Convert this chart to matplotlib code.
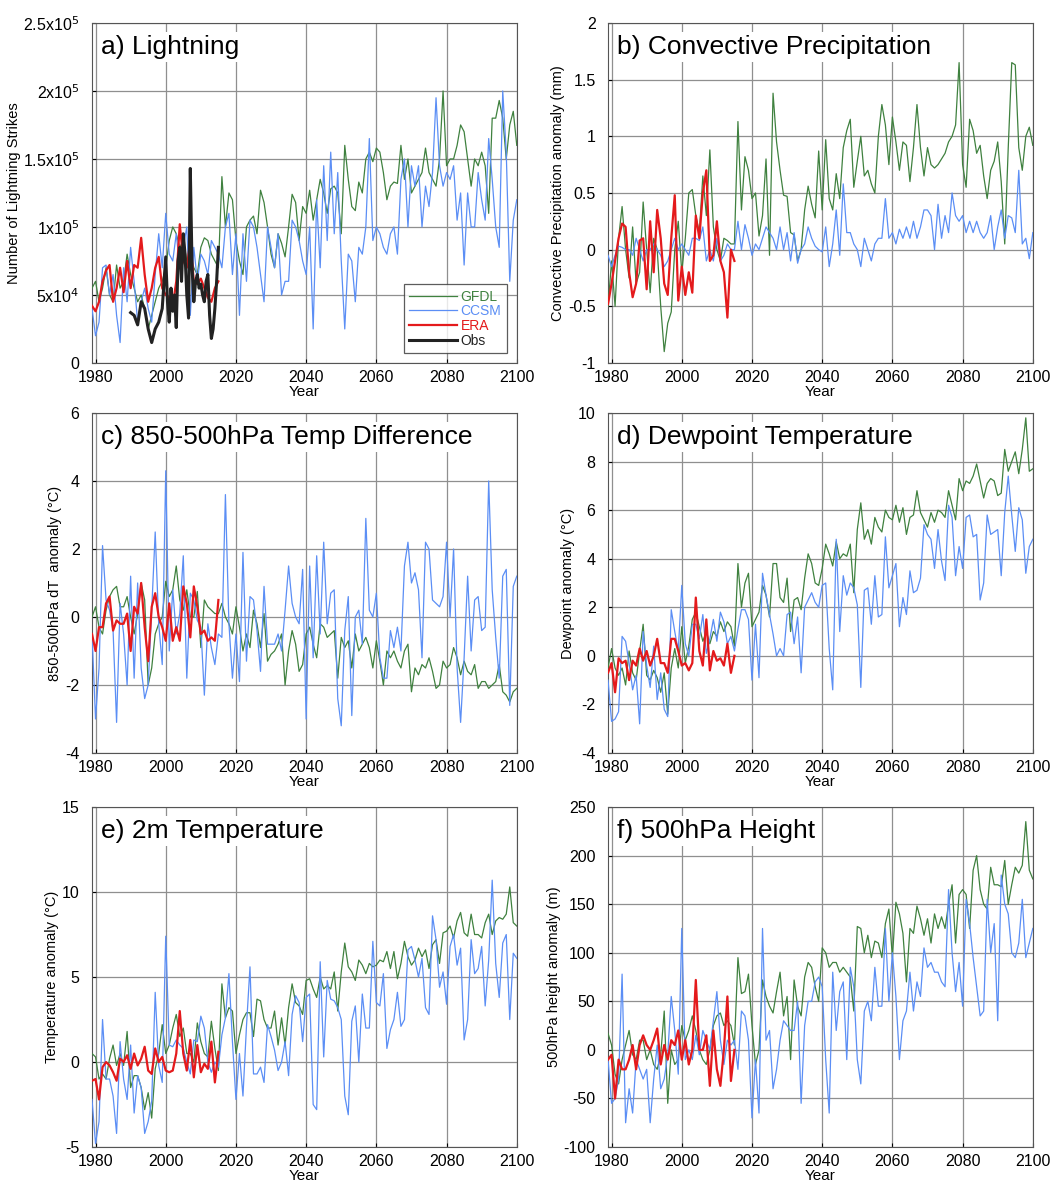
import matplotlib
matplotlib.use("Agg")
import matplotlib.pyplot as plt
from matplotlib.ticker import FuncFormatter
import numpy as np

plt.rcParams['font.family'] = ['Liberation Sans', 'DejaVu Sans']
plt.rcParams['axes.unicode_minus'] = False

# yearly series start in 1979; ERA covers 1979-2015
start_year = 1979

# a) lightning, thousands of strikes
lightning_gfdl = [55, 60, 45, 55, 70, 50, 45, 72, 55, 60,
                  80, 65, 55, 45, 50, 40, 25, 35, 45, 55,
                  60, 70, 90, 100, 95, 85, 90, 75, 80, 70,
                  65, 85, 92, 90, 80, 75, 70, 137, 100, 125,
                  120, 90, 75, 65, 100, 105, 108, 95, 127, 118,
                  100, 80, 70, 95, 88, 78, 100, 124, 118, 90,
                  115, 110, 127, 105, 120, 135, 125, 110, 128, 130,
                  125, 95, 160, 135, 115, 112, 133, 125, 150, 155,
                  148, 158, 155, 140, 120, 130, 133, 132, 160, 135,
                  150, 125, 130, 135, 140, 158, 140, 135, 130, 150,
                  200, 145, 150, 150, 160, 175, 170, 150, 130, 150,
                  145, 155, 145, 110, 180, 180, 193, 180, 150, 175,
                  185, 160]
lightning_ccsm = [40, 20, 30, 70, 72, 50, 65, 35, 15, 70,
                  45, 85, 60, 30, 45, 55, 40, 30, 65, 95,
                  70, 110, 80, 75, 95, 70, 85, 100, 35, 85,
                  60, 80, 75, 65, 90, 85, 80, 70, 100, 110,
                  65, 95, 35, 95, 60, 105, 100, 85, 65, 45,
                  100, 85, 70, 95, 50, 60, 60, 105, 100, 90,
                  75, 65, 100, 25, 120, 70, 145, 90, 155, 95,
                  140, 75, 25, 80, 75, 45, 85, 80, 100, 165,
                  90, 100, 95, 85, 80, 95, 100, 80, 135, 150,
                  100, 145, 130, 145, 100, 130, 115, 140, 195, 145,
                  130, 140, 135, 145, 105, 125, 72, 125, 100, 100,
                  140, 120, 105, 165, 135, 100, 85, 200, 155, 60,
                  105, 120]
lightning_era = [42, 38, 45, 60, 68, 72, 45, 55, 70, 52,
                 75, 55, 72, 70, 92, 65, 45, 55, 70, 78,
                 55, 50, 48, 42, 60, 102, 75, 70, 90, 60,
                 58, 62, 55, 48, 45, 55, 60]
obs_years = [1990, 1991, 1992, 1993, 1994, 1995, 1996, 1997, 1998, 1999,
             2000, 2000.5, 2001, 2001.5, 2002, 2002.5, 2003, 2003.5, 2004, 2004.5,
             2005, 2005.5, 2006, 2006.5, 2007, 2007.5, 2008, 2008.5, 2009, 2009.5,
             2010, 2010.5, 2011, 2011.5, 2012, 2012.5, 2013, 2013.5, 2014, 2014.5, 2015]
lightning_obs = [37, 35, 28, 45, 40, 25, 15, 25, 30, 40,
                 78, 45, 30, 55, 38, 50, 26, 75, 85, 60,
                 95, 80, 50, 33, 143, 70, 45, 60, 65, 55,
                 58, 50, 45, 60, 65, 35, 18, 25, 40, 60, 85]

# b) convective precipitation anomaly (mm)
precip_gfdl = [-0.5, -0.1, -0.5, 0.1, 0.38, 0.0, -0.25, 0.2, -0.3, -0.2,
               0.42, 0.0, -0.38, 0.1, 0.0, -0.5, -0.9, -0.65, -0.55, 0.0,
               0.25, -0.2, 0.1, 0.5, 0.53, 0.3, 0.15, 0.65, 0.3, 0.88,
               0.2, 0.0, -0.1, 0.1, 0.08, 0.05, 0.05, 1.13, 0.35, 0.82,
               0.7, 0.45, 0.5, 0.12, 0.3, 0.8, -0.05, 1.38, 0.95, 0.7,
               0.48, 0.47, 0.15, 0.13, -0.1, 0.0, 0.35, 0.56, 0.4, 0.28,
               0.87, 0.35, 0.97, 0.45, 0.35, 0.67, 0.45, 0.9, 1.05, 1.15,
               0.55, 0.78, 1.0, 0.65, 0.7, 0.58, 0.5, 1.0, 1.28, 1.1,
               0.75, 1.17, 0.95, 0.7, 0.95, 0.92, 0.6, 0.9, 1.28, 0.9,
               0.65, 0.9, 0.75, 0.72, 0.75, 0.8, 0.85, 0.95, 1.0, 1.1,
               1.65, 0.75, 0.55, 1.15, 1.05, 0.85, 0.92, 0.65, 0.45, 0.7,
               0.78, 0.95, 0.6, 0.05, 0.9, 1.65, 1.63, 0.9, 0.7, 1.0,
               1.08, 0.92]
precip_ccsm = [-0.05, -0.15, -0.05, 0.03, 0.02, 0.0, 0.0, -0.05, 0.1, 0.0,
               -0.1, 0.0, 0.0, 0.05, 0.0, -0.05, -0.15, -0.1, 0.0, 0.1,
               0.0, 0.05, 0.0, -0.05, 0.1, 0.1, 0.08, 0.2, -0.1, 0.0,
               -0.1, 0.1, -0.1, -0.05, 0.05, 0.0, 0.0, 0.25, 0.0, 0.22,
               0.1, -0.05, 0.05, 0.0, 0.1, 0.2, 0.15, 0.1, 0.0, 0.2,
               0.0, 0.15, -0.1, 0.15, -0.12, 0.0, 0.05, 0.2, 0.1, 0.03,
               0.0, -0.02, 0.2, -0.15, 0.05, 0.35, -0.05, 0.58, 0.15, 0.15,
               0.05, 0.0, -0.15, 0.1, 0.0, -0.1, 0.05, 0.1, 0.1, 0.45,
               0.1, 0.15, 0.05, 0.18, 0.1, 0.2, 0.1, 0.25, 0.1, 0.2,
               0.35, 0.35, 0.3, 0.0, 0.4, 0.1, 0.3, 0.15, 0.5, 0.3,
               0.25, 0.3, 0.15, 0.25, 0.15, 0.25, 0.15, 0.1, 0.15, 0.3,
               0.0, 0.2, 0.35, 0.1, 0.3, 0.28, 0.15, 0.7, 0.05, 0.1,
               -0.08, 0.15]
precip_era = [-0.48, -0.3, -0.1, 0.1, 0.23, 0.2, -0.2, -0.42, -0.3, 0.08,
              0.1, -0.35, 0.25, -0.2, 0.35, 0.1, -0.3, -0.4, 0.1, 0.48,
              -0.45, -0.15, -0.4, -0.2, -0.38, 0.3, 0.1, 0.5, 0.7, -0.1,
              -0.05, 0.25, -0.1, -0.2, -0.6, 0.0, -0.1]

# c) 850-500hPa dT anomaly (degC)
dt_gfdl = [0.0, 0.3, -0.3, -0.5, 0.2, 0.6, 0.8, 0.9, 0.3, 0.3,
           0.6, 0.0, -0.5, 0.1, 1.0, 0.5, -2.0, -1.5, -0.5, -0.2,
           0.0, 1.05, 0.6, 0.8, 1.5, 0.5, 0.2, 0.8, 0.0, 0.0,
           0.75, -0.9, 0.5, 0.3, 0.2, 0.1, 0.1, 0.4, 0.0, -0.2,
           -0.5, 0.3, -0.3, -1.0, -0.5, -0.9, 0.2, -0.2, -0.9, 0.1,
           -1.3, -1.1, -1.0, -0.8, -0.5, -2.0, -1.0, -0.4, -0.8, -1.6,
           -1.4, -0.5, -0.3, -0.8, -1.2, -0.2, -0.3, -0.6, -0.5, -0.4,
           -1.8, -0.6, -0.9, -0.7, -1.5, -0.5, -1.0, -0.8, -0.6, -0.9,
           -1.5, -0.7, -1.3, -2.0, -1.0, -1.2, -1.0, -1.3, -1.5, -1.0,
           -0.8, -2.2, -1.5, -1.7, -1.4, -1.5, -1.2, -1.6, -2.1, -2.0,
           -1.3, -1.5, -1.4, -0.9, -1.2, -1.7, -1.3, -1.6, -1.7, -1.4,
           -2.1, -1.9, -1.9, -2.1, -2.0, -1.9, -1.4, -2.2, -2.3, -2.5,
           -2.2, -2.1]
dt_ccsm = [-0.5, -3.0, -1.5, 2.1, 0.5, 0.2, -0.4, -3.1, 0.4, -0.5,
           -2.0, 1.2, -1.8, 1.0, -1.5, -2.4, -2.0, 0.2, 2.5, -0.2,
           -1.4, 4.3, -1.0, 0.8, -0.5, 0.1, 1.8, -1.8, 0.7, 0.5,
           -0.1, -0.3, -2.3, -0.2, -0.9, -1.4, -0.5, -0.6, 3.6, -0.2,
           -1.8, -0.5, -1.9, 1.9, -1.3, 0.6, 0.5, -0.4, -1.6, 0.9,
           -0.8, -0.8, -0.8, -0.5, -1.0, 0.2, 1.5, 0.4, 0.0, -0.2,
           1.4, -3.0, 1.5, -1.2, 1.8, -0.5, 2.2, -0.2, 0.7, 0.8,
           -2.4, -3.2, -0.4, 0.6, -2.9, 0.0, 0.2, -0.8, 2.9, 0.2,
           0.0, 0.7, -1.2, -1.8, -1.8, -0.4, -0.9, -0.3, -1.0, 1.5,
           2.2, 1.0, 1.3, 0.8, -1.2, 2.2, 2.0, 0.5, 0.4, 0.3,
           0.6, 2.2, 0.0, 2.0, -1.5, -3.1, -1.2, 1.2, -1.0, 0.5,
           0.6, -0.4, -0.3, 4.0, 0.8, -0.6, -1.8, 1.2, 1.4, -2.6,
           0.9, 1.2]
dt_era = [-0.5, -1.0, -0.3, -0.3, 0.4, 0.6, -0.4, -0.1, -0.2, -0.2,
          0.1, -1.0, 0.3, 0.1, 1.0, -0.3, -1.3, 0.3, 0.7, 0.0,
          -0.3, -0.7, 0.4, -0.7, -0.3, -0.7, 0.9, 0.4, -0.6, 0.9,
          0.3, -0.5, -0.4, -0.7, -0.6, -0.7, 0.5]

# d) dewpoint anomaly (degC)
dew_gfdl = [-0.5, 0.3, -0.5, -0.8, -0.5, -1.2, 0.2, -0.7, -1.0, 0.2,
            1.3, -0.8, -1.0, -0.6, -0.9, -1.5, -0.7, -2.4, -0.5, 0.3,
            -0.5, 1.2, -0.3, 0.4, 1.5, 1.8, 1.2, 0.6, 1.0, 0.5,
            1.0, 0.8, 1.4, 1.0, 1.4, 1.2, 0.4, 3.8, 2.0, 3.0,
            3.4, 1.2, 1.5, 1.8, 2.9, 2.5, 1.6, 3.8, 3.8, 2.4,
            2.2, 3.2, 1.0, 2.3, 2.4, 1.9, 3.2, 4.2, 3.8, 3.0,
            2.9, 3.6, 4.6, 4.2, 3.7, 4.7, 4.0, 4.2, 4.1, 4.6,
            2.6, 5.2, 6.3, 4.8, 5.2, 4.6, 5.7, 5.3, 5.1, 6.0,
            5.7, 5.6, 6.2, 5.5, 6.1, 5.0, 5.7, 5.8, 6.8, 5.9,
            5.6, 5.3, 5.9, 5.5, 6.0, 5.9, 5.7, 6.8, 6.2, 5.6,
            7.3, 6.8, 7.2, 7.1, 7.4, 7.9, 7.2, 6.5, 7.1, 7.3,
            7.2, 6.6, 6.7, 8.5, 7.6, 8.0, 8.4, 7.5, 8.5, 9.8,
            7.6, 7.7]
dew_ccsm = [-1.0, -2.7, -2.6, -2.3, 0.8, 0.6, -0.3, -1.4, -0.8, -2.8,
            1.0, -0.4, -1.3, 0.4, -1.8, -0.7, -2.2, -2.5, 1.9, 1.0,
            0.2, 2.9, 0.5, 0.0, 1.3, 1.3, 0.7, 1.7, 0.1, 0.7,
            1.5, 0.6, 1.8, 1.4, 0.5, 0.8, 0.2, 1.1, 1.9, 1.9,
            1.5, -1.0, 1.3, -0.9, 3.4, 2.5, 1.7, 0.9, 0.0, 0.3,
            0.0, 1.7, 1.8, 0.5, 1.6, -0.7, 2.0, 2.3, 2.6, 2.2,
            2.0, 2.9, 3.0, 0.3, -1.4, 4.8, 1.0, 3.3, 2.5, 3.0,
            2.8, 2.1, -1.3, 2.7, 2.8, 1.3, 3.3, 1.6, 1.7, 4.9,
            2.8, 3.3, 3.8, 1.2, 2.4, 1.7, 3.5, 2.6, 2.7, 3.2,
            5.4, 5.0, 4.8, 3.6, 5.2, 3.9, 3.1, 6.2, 5.7, 3.3,
            4.5, 3.6, 5.7, 5.8, 4.9, 5.0, 2.3, 3.0, 5.8, 5.0,
            5.1, 5.2, 3.3, 5.9, 7.4, 5.8, 4.3, 6.1, 5.6, 3.4,
            4.5, 4.8]
dew_era = [-0.7, -0.3, -1.5, -0.1, -0.3, -0.2, -1.0, -0.2, -0.4, 0.3,
           -0.2, 0.2, -0.4, 0.0, 0.7, -0.3, -0.3, -0.7, 0.7, 0.7,
           0.2, -0.4, -0.3, -0.6, -0.3, 2.4, 0.2, -0.4, 1.5, -0.6,
           0.2, -0.2, -0.1, -0.4, 0.5, -0.7, 0.0]

# e) 2m temperature anomaly (degC)
t2m_gfdl = [0.5, 0.3, -1.0, -0.7, -1.0, 0.2, 1.0, -0.2, 0.5, -0.2,
            1.8, -1.5, -0.8, -0.8, -1.5, -2.8, -1.8, -3.3, -0.4, 0.5,
            2.2, 0.5, 1.0, 2.0, 2.8, 1.5, 2.0, 0.5, 0.5, 0.0,
            2.3, 1.2, 0.5, 0.3, 2.4, 0.8, -0.5, 4.6, 2.6, 3.2,
            3.0, 0.5, 1.6, 2.5, 2.9, 2.9, 1.5, 3.7, 3.6, 2.5,
            2.0, 2.0, 3.0, 1.0, 2.6, 1.0, 3.2, 4.6, 3.5, 3.3,
            2.8, 4.8, 4.9, 4.3, 3.8, 5.0, 4.3, 4.5, 4.3, 5.3,
            3.0, 5.3, 7.0, 5.6, 5.3, 4.8, 6.0, 5.7, 5.2, 5.8,
            5.6, 5.7, 6.0, 5.9, 6.5, 5.5, 6.5, 4.9, 5.8, 7.1,
            6.2, 5.7, 6.0, 6.7, 6.2, 6.6, 5.5, 6.9, 7.2, 5.8,
            7.6, 7.7, 8.0, 7.3, 8.3, 8.8, 7.6, 7.4, 8.7, 7.5,
            7.5, 7.3, 8.2, 8.7, 7.5, 8.3, 8.5, 8.4, 8.7, 10.3,
            8.2, 8.0]
t2m_ccsm = [-2.2, -4.8, -3.5, 2.5, -1.0, -1.0, -2.0, -4.2, 1.2, -1.0,
            -2.2, 1.0, -3.0, -0.8, -1.5, -4.2, -3.5, -2.3, 4.1, -0.2,
            -1.2, 7.4, 1.0, 0.9, 1.3, 1.0, 0.8, 0.0, -0.7, 1.3,
            1.2, 2.7, 2.0, 0.0, -0.6, 0.0, -0.3, 1.6, 2.6, 5.2,
            1.2, -2.2, 0.5, -2.0, 2.1, 5.6, -0.7, -0.7, -0.3, -1.2,
            2.2, 1.5, 0.7, -0.5, 0.0, 1.2, -0.8, 2.8, 3.9, 3.5,
            1.2, 3.8, 4.0, -2.5, -2.8, 5.9, 0.3, 4.8, 3.7, 3.6,
            3.2, 2.5, -2.0, -3.1, 2.4, 3.3, 0.0, 4.0, 2.0, 2.0,
            7.1, 3.5, 3.3, 5.2, 0.8, 1.9, 2.5, 4.1, 2.1, 2.5,
            6.6, 6.8, 6.0, 5.0, 6.1, 3.2, 2.8, 8.6, 7.2, 4.4,
            5.3, 3.4, 6.8, 7.5, 5.7, 6.7, 1.3, 2.5, 7.2, 5.2,
            5.5, 6.8, 3.3, 6.0, 10.7, 5.8, 3.8, 7.0, 7.5, 2.5,
            6.4, 6.1]
t2m_era = [-1.1, -1.0, -2.2, -0.3, 0.0, -0.2, -0.6, -1.1, 0.2, 0.0,
           0.4, -0.4, 0.5, -0.2, 0.2, 0.9, -0.5, -0.7, 0.8, 0.0,
           0.3, -0.5, -0.6, -0.5, 0.5, 3.0, 0.5, -0.5, 1.3, -0.9,
           1.0, -0.6, -0.1, -0.4, 1.2, -1.2, 0.6]

# f) 500hPa height anomaly (m)
z500_gfdl = [17, 5, -25, -35, -10, 5, 20, -5, -10, 10,
             10, -10, 0, -15, -20, -5, 40, -55, 0, -15,
             -10, 25, 10, 20, 35, 20, 0, -10, -15, 0,
             25, 35, 38, 25, 30, 25, 5, 95, 58, 60,
             78, 25, -15, 0, 72, 55, 45, 38, 60, 80,
             35, 55, -10, 72, 45, 35, 75, 90, 85, 65,
             50, 105, 100, 85, 90, 90, 80, 85, 80, 75,
             40, 127, 125, 100, 118, 95, 112, 110, 95, 130,
             145, 95, 152, 140, 120, 70, 125, 120, 148, 135,
             118, 135, 110, 140, 125, 137, 125, 150, 170, 110,
             160, 165, 160, 125, 185, 200, 165, 150, 145, 188,
             170, 170, 168, 195, 150, 170, 188, 182, 190, 235,
             185, 176]
z500_ccsm = [-10, -55, -50, -30, 78, -75, -40, -65, -10, -20,
             -30, -20, -75, -30, 5, -40, -30, -5, 55, 20,
             -25, 125, -10, 0, -10, 15, -5, 20, 10, 0,
             30, 60, 10, -15, 10, 5, 10, -20, 40, 35,
             10, -70, -10, -65, 125, 10, 20, -40, -20, 10,
             30, 25, 20, 20, 50, -55, 25, 50, 50, 70,
             75, 65, -10, -65, 80, 20, 60, 70, -10, 85,
             65, -10, -35, 40, 50, 30, 85, 45, 45, 125,
             50, 100, 55, -10, 30, 40, 80, 40, 70, 55,
             105, 85, 90, 80, 80, 70, 65, 165, 100, 60,
             90, 45, 155, 130, 95, 65, 35, 40, 155, 100,
             130, 30, 180, 150, 140, 100, 95, 110, 155, 95,
             110, 125]
z500_era = [-10, -5, -50, -10, -20, -20, -10, 5, -20, 5,
            15, 5, 0, 10, 22, -15, 5, -10, 10, 5,
            20, -10, 10, -15, 0, 72, 0, 0, 15, -37,
            20, -20, -37, 0, 55, -32, 0]

GFDL_C = '#3f813f'
CCSM_C = '#5b8ef5'
ERA_C = '#e41a1c'
OBS_C = '#222222'


def yrs(series):
    return np.arange(start_year, start_year + len(series))


def sci_fmt(v, pos):
    # MATLAB-like "5x10^4" labels for the lightning axis
    if v == 0:
        return '0'
    exp = int(np.floor(np.log10(v)))
    mant = v / 10 ** exp
    return r'%gx10$^{%d}$' % (mant, exp)


plain_fmt = FuncFormatter(lambda v, pos: '%g' % v)

panels = [
    ('a) Lightning', 'Number of Lightning Strikes',
     np.array(lightning_gfdl) * 1000, np.array(lightning_ccsm) * 1000,
     np.array(lightning_era) * 1000, (0, 2.5e5), np.arange(0, 2.6e5, 5e4)),
    ('b) Convective Precipitation', 'Convective Precipitation anomaly (mm)',
     precip_gfdl, precip_ccsm, precip_era, (-1, 2), np.arange(-1, 2.01, 0.5)),
    ('c) 850-500hPa Temp Difference', '850-500hPa dT  anomaly (°C)',
     dt_gfdl, dt_ccsm, dt_era, (-4, 6), np.arange(-4, 7, 2)),
    ('d) Dewpoint Temperature', 'Dewpoint anomaly (°C)',
     dew_gfdl, dew_ccsm, dew_era, (-4, 10), np.arange(-4, 11, 2)),
    ('e) 2m Temperature', 'Temperature anomaly (°C)',
     t2m_gfdl, t2m_ccsm, t2m_era, (-5, 15), np.arange(-5, 16, 5)),
    ('f) 500hPa Height', '500hPa height anomaly (m)',
     z500_gfdl, z500_ccsm, z500_era, (-100, 250), np.arange(-100, 251, 50)),
]

fig = plt.figure(figsize=(10.54, 11.83), dpi=100)
lefts = [0.0873, 0.5769]
bottoms = [0.6932, 0.3635, 0.0304]
w, h = 0.403, 0.2874

for i, (title, ylab, g, c, e, ylim, yticks) in enumerate(panels):
    ax = fig.add_axes([lefts[i % 2], bottoms[i // 2], w, h])
    ax.plot(yrs(g), g, color=GFDL_C, lw=0.9, label='GFDL', zorder=3)
    ax.plot(yrs(c), c, color=CCSM_C, lw=0.9, label='CCSM', zorder=3)
    ax.plot(yrs(e), e, color=ERA_C, lw=1.6, label='ERA', zorder=4)
    if i == 0:
        ax.plot(obs_years, np.array(lightning_obs) * 1000, color=OBS_C,
                lw=2.2, label='Obs', zorder=5)
        ax.yaxis.set_major_formatter(FuncFormatter(sci_fmt))
        leg = ax.legend(loc='lower right', fontsize=10, frameon=True,
                        fancybox=False, edgecolor='#333333',
                        handlelength=3.4, borderaxespad=0.7,
                        labelspacing=0.05, handletextpad=0.3)
        leg.get_frame().set_linewidth(0.9)
        for txt, col in zip(leg.get_texts(), [GFDL_C, CCSM_C, ERA_C, OBS_C]):
            txt.set_color(col)
        leg.set_zorder(10)
    else:
        ax.yaxis.set_major_formatter(plain_fmt)
    ax.set_xlim(1979, 2100)
    ax.set_ylim(*ylim)
    ax.set_xticks(np.arange(1980, 2101, 20))
    ax.set_yticks(yticks)
    ax.grid(True, color='#8f8f8f', lw=0.9)
    ax.set_axisbelow(True)
    ax.tick_params(direction='in', labelsize=11.5, length=3)
    ax.tick_params(axis='x', pad=5)
    ax.tick_params(axis='y', pad=9)
    ax.set_xlabel('Year', fontsize=11, labelpad=0)
    ax.set_ylabel(ylab, fontsize=10.5, labelpad=2)
    for sp in ax.spines.values():
        sp.set_color('#555555')
    ax.text(0.02, 0.965, title, transform=ax.transAxes, fontsize=19,
            va='top', ha='left', zorder=8,
            bbox=dict(facecolor='white', edgecolor='none', pad=2))

fig.savefig('out.png', dpi=100)
